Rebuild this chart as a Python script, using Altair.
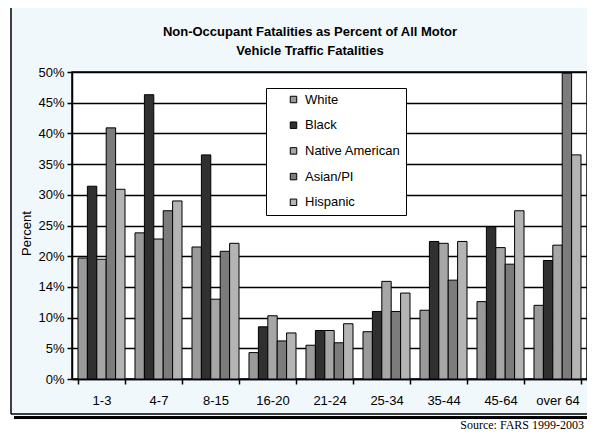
import altair as alt
import pandas as pd

groups = ["1-3", "4-7", "8-15", "16-20", "21-24", "25-34", "35-44", "45-64", "over 64"]
races = ["White", "Black", "Native American", "Asian/PI", "Hispanic"]

white = [19.7, 23.8, 21.5, 4.3, 5.5, 7.7, 11.2, 12.6, 12.0]
black = [31.4, 46.3, 36.5, 8.5, 7.9, 11.0, 22.4, 24.8, 19.3]
native = [19.5, 22.8, 13.0, 10.3, 7.9, 15.9, 22.1, 21.4, 21.8]
asian = [40.9, 27.4, 20.8, 6.2, 5.9, 11.0, 16.1, 18.7, 49.8]
hispanic = [30.9, 29.0, 22.1, 7.5, 9.0, 14.0, 22.4, 27.4, 36.5]

y_ticks = [0, 5, 10, 15, 20, 25, 30, 35, 40, 45, 50]
title_line1 = "Non-Occupant Fatalities as Percent of All Motor"
title_line2 = "Vehicle Traffic Fatalities"
source_text = "Source: FARS 1999-2003"

colors = ["#9a9a9a", "#303030", "#a6a6a6", "#7c7c7c", "#b4b4b4"]

rows = []
for race, vals in zip(races, [white, black, native, asian, hispanic]):
    for g, v in zip(groups, vals):
        rows.append({"group": g, "race": race, "value": v})
df = pd.DataFrame(rows)
one = pd.DataFrame({"a": [0]})

FONT = "Liberation Sans"

bars = alt.Chart(df).mark_bar(stroke="black", strokeWidth=1).encode(
    x=alt.X("group:N", sort=groups, title=None,
            scale=alt.Scale(paddingInner=0.175, paddingOuter=0.105),
            axis=alt.Axis(labelAngle=0, tickBand="extent", tickSize=5, labelPadding=10,
                          grid=False, labelFontSize=13)),
    xOffset=alt.XOffset("race:N", sort=races, scale=alt.Scale(paddingInner=0, paddingOuter=0)),
    y=alt.Y("value:Q", scale=alt.Scale(domain=[0, 50], nice=False),
            axis=alt.Axis(values=y_ticks,
                          labelExpr="datum.value == 15 ? '14%' : datum.value + '%'",
                          title="Percent", titleFontSize=13, titleFontWeight="normal",
                          titleFont=FONT, titleColor="black", titleY=161, titlePadding=4,
                          tickSize=5, labelPadding=3, labelFontSize=13,
                          grid=True, gridColor="black", gridWidth=1.5)),
    color=alt.Color("race:N", sort=races,
                    scale=alt.Scale(domain=races, range=colors),
                    legend=alt.Legend(orient="none", legendX=194, legendY=16, title=None,
                                      fillColor="white", strokeColor="black",
                                      padding=5, symbolOffset=16, rowPadding=11.7,
                                      labelFontSize=13, labelFont=FONT, labelColor="black",
                                      symbolType="square", symbolSize=42,
                                      symbolStrokeColor="black", symbolStrokeWidth=1,
                                      labelOffset=5)),
)

white_strip = alt.Chart(one).mark_rect(fill="white").encode(
    x=alt.value(-70), x2=alt.value(530), y=alt.value(348), y2=alt.value(370))
white_left = alt.Chart(one).mark_rect(fill="white").encode(
    x=alt.value(-66), x2=alt.value(-62), y=alt.value(-70), y2=alt.value(370))
frame_left = alt.Chart(one).mark_rule(color="black", strokeWidth=1.5).encode(
    x=alt.value(-61), y=alt.value(-65), y2=alt.value(342))
frame_top = alt.Chart(one).mark_rule(color="black", strokeWidth=1.5).encode(
    x=alt.value(-61), x2=alt.value(530), y=alt.value(-65))
frame_bottom = alt.Chart(one).mark_rule(color="black", strokeWidth=1.5).encode(
    x=alt.value(-61), x2=alt.value(530), y=alt.value(342))
frame_shadow = alt.Chart(one).mark_rule(color="black", strokeWidth=3).encode(
    x=alt.value(-58), x2=alt.value(530), y=alt.value(345.5))
title1 = alt.Chart(one).mark_text(align="center", baseline="middle", font=FONT,
                                  fontSize=13, fontWeight="bold", color="black").encode(
    x=alt.value(238), y=alt.value(-40), text=alt.value(title_line1))
title2 = alt.Chart(one).mark_text(align="center", baseline="middle", font=FONT,
                                  fontSize=13, fontWeight="bold", color="black").encode(
    x=alt.value(238), y=alt.value(-21), text=alt.value(title_line2))
source = alt.Chart(one).mark_text(align="right", baseline="alphabetic",
                                  font="Liberation Serif", fontSize=12, color="black").encode(
    x=alt.value(512), y=alt.value(357), text=alt.value(source_text))

chart = alt.layer(white_strip, white_left, frame_left, frame_top, frame_bottom, frame_shadow,
                  title1, title2, bars, source).properties(
    width=515, height=307,
    padding={"left": 64, "top": 64, "right": 0, "bottom": 54},
    autosize=alt.AutoSizeParams(type="none"),
).configure(
    background="#f0f8fc",
).configure_view(
    fill="white", stroke="black", strokeWidth=1.5,
).configure_axis(
    domainColor="black", tickColor="black", labelColor="black", labelFont=FONT,
    domainWidth=1.5, tickWidth=1.5,
)

chart.save("out.html", embed_options={"renderer": "svg", "actions": False})
